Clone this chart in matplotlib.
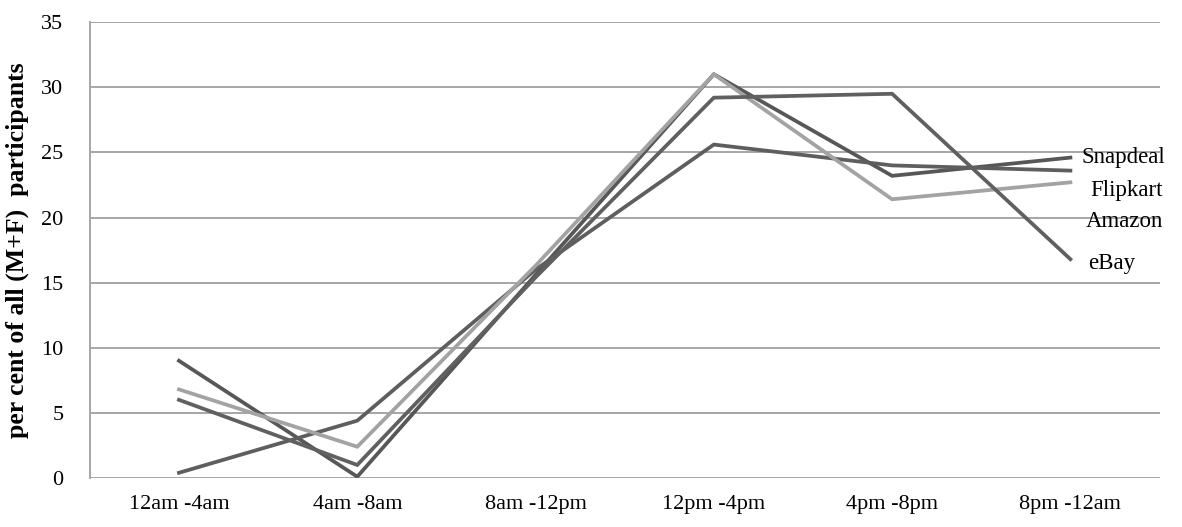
import matplotlib
matplotlib.use("Agg")
import matplotlib.pyplot as plt

# time slots and share of participants (%) per site
slots = ['12am -4am', '4am -8am', '8am -12pm', '12pm -4pm', '4pm -8pm', '8pm -12am']
snapdeal = [9.0, 0.1, 15.6, 31.0, 23.2, 24.6]
flipkart = [0.4, 4.4, 16.0, 25.6, 24.0, 23.6]
amazon = [6.8, 2.4, 16.3, 31.0, 21.4, 22.7]
ebay = [6.0, 1.0, 15.4, 29.2, 29.5, 16.8]

names = ['Snapdeal', 'Flipkart', 'Amazon', 'eBay']
series = [snapdeal, flipkart, amazon, ebay]
colours = ['#575757', '#5e5e5e', '#a3a3a3', '#606060']

plt.rcParams['font.family'] = ['Liberation Serif', 'DejaVu Serif']

fig = plt.figure(figsize=(11.82, 5.27), dpi=100)
ax = fig.add_axes([0.076, 0.093, 0.905, 0.865])

x = list(range(len(slots)))
for vals, c in zip(series, colours):
    ax.plot(x, vals, color=c, lw=2.7, solid_joinstyle='miter', zorder=3)

# labels at the right end of each line (offsets in points)
offsets = {'Snapdeal': (8, 0), 'Flipkart': (14, -14), 'Amazon': (11, -28), 'eBay': (13, -3)}
for name, vals in zip(names, series):
    ax.annotate(name, (x[-1], vals[-1]), xytext=offsets[name], textcoords='offset points',
                ha='left', va='center', fontsize=16.5, annotation_clip=False)

ax.set_xlim(-0.5, len(slots) - 0.5)
ax.set_ylim(0, 35)
ax.set_yticks(range(0, 36, 5))
ax.set_xticks(x)
ax.set_xticklabels(slots)
ax.tick_params(axis='both', length=0, labelsize=16)
ax.tick_params(axis='y', pad=19)
ax.tick_params(axis='x', pad=12)

ax.grid(axis='y', color='#a6a6a6', lw=1.4)
ax.set_axisbelow(True)
for s in ['top', 'right', 'bottom']:
    ax.spines[s].set_visible(False)
ax.spines['left'].set_color('#a6a6a6')
ax.spines['left'].set_linewidth(1.4)

ax.set_ylabel('per cent of all (M+F)  participants', fontsize=18.5, fontweight='bold', labelpad=9)

fig.savefig('out.png', dpi=100)
